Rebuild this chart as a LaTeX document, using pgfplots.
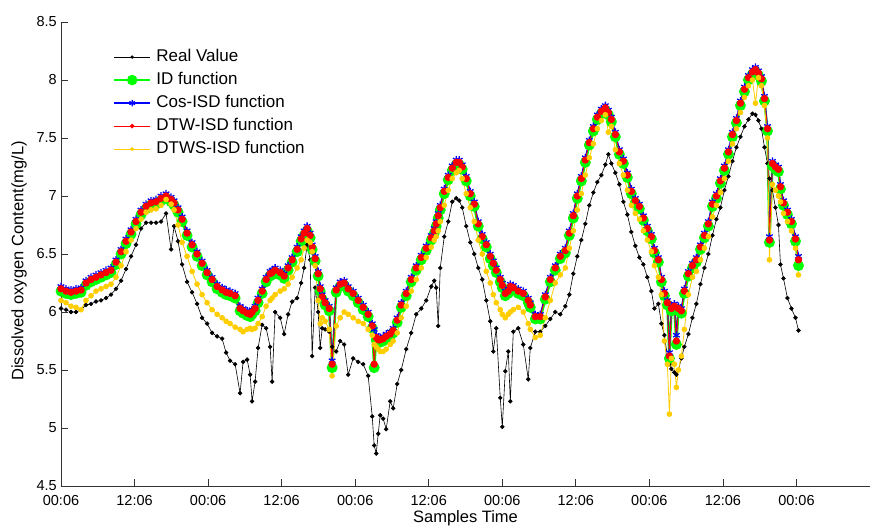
\documentclass[border=0pt]{standalone}
\usepackage{fontspec}
\setmainfont{Liberation Sans}
\usepackage{pgfplots}
\usepackage{pgfplotstable}
\pgfplotsset{compat=1.18}

\definecolor{mgreen}{RGB}{0,255,0}
\definecolor{mblue}{RGB}{0,0,255}
\definecolor{mred}{RGB}{255,0,0}
\definecolor{myellow}{RGB}{255,205,0}

% t in hours from the first sample (00:06)
\pgfplotstableread{
t real id cos dtw dtws
0 6.03 6.18 6.22 6.20 6.10
0.82 6.02 6.16 6.20 6.18 6.08
1.63 6.00 6.15 6.19 6.17 6.05
2.45 6.00 6.16 6.20 6.18 6.04
3.27 6.02 6.17 6.21 6.19 6.02
4.08 6.06 6.23 6.27 6.25 6.10
4.90 6.07 6.26 6.30 6.28 6.14
5.71 6.09 6.28 6.32 6.30 6.18
6.53 6.10 6.30 6.34 6.32 6.20
7.35 6.12 6.32 6.36 6.34 6.22
8.16 6.15 6.34 6.38 6.36 6.24
8.98 6.20 6.41 6.45 6.43 6.30
9.80 6.27 6.50 6.54 6.52 6.40
10.61 6.37 6.59 6.63 6.61 6.52
11.43 6.48 6.67 6.71 6.69 6.62
12.24 6.58 6.76 6.80 6.78 6.72
13.06 6.72 6.84 6.88 6.86 6.80
13.88 6.77 6.89 6.93 6.91 6.86
14.69 6.77 6.92 6.96 6.94 6.88
15.51 6.77 6.93 6.97 6.95 6.89
16.33 6.78 6.96 7.00 6.98 6.92
17.14 6.85 6.98 7.02 7.00 6.97
17.96 6.54 6.95 6.99 6.97 6.93
18.45 6.74 6.92 6.96 6.94 6.88
19.10 6.61 6.86 6.90 6.88 6.75
19.76 6.41 6.78 6.82 6.80 6.60
20.57 6.26 6.66 6.70 6.68 6.48
21.39 6.17 6.56 6.60 6.58 6.35
22.20 6.07 6.48 6.52 6.50 6.24
23.02 5.95 6.40 6.44 6.42 6.15
23.84 5.90 6.32 6.36 6.34 6.08
24.65 5.82 6.26 6.30 6.28 6.02
25.47 5.79 6.20 6.24 6.22 5.98
26.29 5.77 6.17 6.21 6.19 5.95
26.94 5.65 6.15 6.19 6.17 5.92
27.59 5.58 6.14 6.18 6.16 5.90
28.41 5.55 6.12 6.16 6.14 5.87
29.22 5.30 6.01 6.05 6.03 5.85
29.71 5.57 5.99 6.03 6.01 5.83
30.37 5.59 5.97 6.01 5.99 5.85
30.86 5.46 5.96 6.00 5.98 5.86
31.18 5.23 5.98 6.02 6.00 5.85
31.67 5.40 6.01 6.05 6.03 5.86
32.16 5.69 6.08 6.12 6.10 5.90
32.82 5.89 6.16 6.20 6.18 5.96
33.47 5.86 6.26 6.30 6.28 6.05
34.12 5.70 6.31 6.35 6.33 6.10
34.45 5.40 6.32 6.36 6.34 6.12
34.94 6.00 6.34 6.38 6.36 6.15
35.76 5.95 6.32 6.36 6.34 6.18
36.41 5.81 6.29 6.33 6.31 6.20
37.06 5.98 6.36 6.40 6.38 6.24
37.71 6.09 6.43 6.47 6.45 6.30
38.53 6.12 6.52 6.56 6.54 6.38
39.18 6.25 6.61 6.65 6.63 6.45
39.67 6.38 6.66 6.70 6.68 6.55
40.16 6.58 6.70 6.74 6.72 6.62
40.65 6.45 6.64 6.68 6.66 6.60
40.98 5.62 6.54 6.58 6.56 6.52
41.47 6.21 6.44 6.48 6.46 6.40
41.96 6.00 6.31 6.35 6.33 6.10
42.29 5.69 6.18 6.22 6.20 5.90
42.61 5.86 6.11 6.15 6.13 5.95
43.10 5.85 6.06 6.10 6.08 5.92
43.76 5.83 6.01 6.05 6.03 5.85
44.24 5.70 5.52 5.58 5.55 5.45
44.90 5.66 6.17 6.21 6.19 5.88
45.55 5.75 6.22 6.26 6.24 5.95
46.20 5.72 6.23 6.27 6.25 6.00
46.86 5.46 6.18 6.22 6.20 5.98
47.67 5.60 6.14 6.18 6.16 5.95
48.49 5.57 6.08 6.12 6.10 5.92
49.31 5.55 6.02 6.06 6.04 5.90
50.12 5.45 5.96 6.00 5.98 5.85
50.78 5.10 5.86 5.90 5.88 5.80
51.10 4.85 5.52 5.85 5.55 5.72
51.43 4.78 5.76 5.80 5.78 5.70
51.76 4.95 5.74 5.78 5.76 5.68
52.08 5.11 5.74 5.78 5.76 5.66
52.57 5.08 5.75 5.79 5.77 5.66
53.06 4.99 5.77 5.81 5.79 5.68
53.71 5.23 5.79 5.83 5.81 5.72
54.20 5.17 5.82 5.86 5.84 5.75
54.86 5.38 5.91 5.95 5.93 5.82
55.51 5.50 6.04 6.08 6.06 5.95
56.33 5.68 6.14 6.18 6.16 6.05
57.14 5.82 6.26 6.30 6.28 6.18
57.96 5.98 6.36 6.40 6.38 6.28
58.78 6.03 6.45 6.49 6.47 6.38
59.59 6.10 6.53 6.57 6.55 6.47
60.41 6.22 6.62 6.66 6.64 6.56
60.90 6.27 6.68 6.72 6.70 6.62
61.22 6.21 6.74 6.78 6.76 6.65
61.55 5.88 6.81 6.85 6.83 6.70
61.88 6.38 6.88 6.92 6.90 6.78
62.53 6.65 7.02 7.06 7.04 6.92
63.18 6.78 7.14 7.18 7.16 7.05
63.84 6.95 7.22 7.26 7.24 7.15
64.49 6.98 7.27 7.31 7.29 7.20
64.98 6.96 7.27 7.31 7.29 7.22
65.47 6.90 7.23 7.27 7.25 7.15
66.12 6.74 7.13 7.17 7.15 7.02
66.78 6.60 7.00 7.04 7.02 6.90
67.43 6.50 6.91 6.95 6.93 6.78
68.08 6.38 6.74 6.78 6.76 6.62
68.73 6.28 6.63 6.67 6.65 6.50
69.39 6.10 6.56 6.60 6.58 6.35
70.04 5.92 6.46 6.50 6.48 6.25
70.53 5.66 6.40 6.44 6.42 6.15
71.02 5.86 6.34 6.38 6.36 6.08
71.67 5.26 6.26 6.30 6.28 6.02
72.00 5.01 6.21 6.25 6.23 5.98
72.49 5.49 6.14 6.18 6.16 5.95
72.98 5.66 6.16 6.20 6.18 5.98
73.31 5.23 6.20 6.24 6.22 6.00
73.80 5.83 6.19 6.23 6.21 6.02
74.61 5.86 6.16 6.20 6.18 6.04
75.43 5.72 6.14 6.18 6.16 6.00
76.24 5.42 6.08 6.12 6.10 5.90
76.57 5.69 6.04 6.08 6.06 5.85
77.39 5.83 5.94 5.98 5.96 5.78
78.20 5.83 5.94 5.98 5.96 5.80
79.02 5.88 6.11 6.15 6.13 5.95
79.84 5.94 6.26 6.30 6.28 6.10
80.65 6.00 6.36 6.40 6.38 6.25
81.47 5.98 6.46 6.50 6.48 6.32
82.29 6.05 6.51 6.55 6.53 6.38
82.94 6.15 6.66 6.70 6.68 6.55
83.59 6.33 6.81 6.85 6.83 6.70
84.24 6.48 6.98 7.02 7.00 6.88
84.90 6.62 7.13 7.17 7.15 7.02
85.55 6.76 7.29 7.33 7.31 7.18
86.20 6.92 7.44 7.48 7.46 7.33
86.86 7.03 7.56 7.60 7.58 7.45
87.51 7.12 7.66 7.70 7.68 7.58
88.16 7.18 7.71 7.75 7.73 7.65
88.82 7.27 7.74 7.78 7.76 7.70
89.31 7.36 7.70 7.74 7.72 7.55
89.80 7.28 7.64 7.68 7.66 7.60
90.45 7.20 7.51 7.55 7.53 7.40
91.10 7.10 7.36 7.40 7.38 7.28
91.76 6.95 7.28 7.32 7.30 7.18
92.41 6.84 7.16 7.20 7.18 7.05
93.06 6.69 7.02 7.06 7.04 6.92
93.71 6.57 6.94 6.98 6.96 6.85
94.37 6.47 6.89 6.93 6.91 6.80
95.02 6.41 6.79 6.83 6.81 6.70
95.67 6.30 6.70 6.74 6.72 6.62
96.33 6.18 6.63 6.67 6.65 6.52
96.82 6.03 6.51 6.55 6.53 6.40
97.47 6.07 6.43 6.47 6.45 6.30
97.96 5.90 6.26 6.30 6.28 6.15
98.45 5.80 6.14 6.18 6.16 5.75
98.94 5.62 6.06 6.10 6.08 5.55
99.27 5.55 5.60 5.65 5.62 5.12
99.59 5.51 6.01 6.05 6.03 5.60
100.08 5.48 6.03 6.07 6.05 5.55
100.41 5.46 5.72 5.80 5.75 5.35
100.73 5.50 6.01 6.05 6.03 5.50
101.22 5.60 5.99 6.03 6.01 5.62
101.71 5.70 6.16 6.20 6.18 5.85
102.37 5.81 6.31 6.35 6.33 6.15
103.02 5.95 6.38 6.42 6.40 6.30
103.67 6.07 6.43 6.47 6.45 6.35
104.33 6.24 6.54 6.58 6.56 6.45
104.98 6.38 6.64 6.68 6.66 6.55
105.63 6.50 6.74 6.78 6.76 6.65
106.29 6.66 6.91 6.95 6.93 6.82
106.94 6.80 6.98 7.02 7.00 6.92
107.59 6.90 7.11 7.15 7.13 7.03
108.24 7.05 7.22 7.26 7.24 7.15
108.90 7.17 7.36 7.40 7.38 7.30
109.55 7.30 7.51 7.55 7.53 7.45
110.20 7.42 7.63 7.67 7.65 7.58
110.86 7.51 7.78 7.82 7.80 7.72
111.51 7.60 7.90 7.94 7.92 7.85
112.16 7.66 8.00 8.04 8.02 7.95
112.82 7.71 8.05 8.09 8.07 8.00
113.31 7.70 8.07 8.11 8.09 7.80
113.80 7.65 8.04 8.08 8.06 8.02
114.29 7.58 7.99 8.03 8.01 7.95
114.78 7.42 7.82 7.86 7.84 7.78
115.27 7.28 7.56 7.60 7.58 7.50
115.59 7.15 6.60 6.65 6.62 6.45
116.08 7.05 7.26 7.30 7.28 7.10
116.57 6.90 7.23 7.27 7.25 7.05
117.06 6.75 7.21 7.25 7.23 7.00
117.39 6.41 7.06 7.10 7.08 6.95
117.88 6.29 6.92 6.96 6.94 6.85
118.53 6.12 6.84 6.88 6.86 6.78
119.18 6.03 6.76 6.80 6.78 6.70
119.84 5.95 6.61 6.65 6.63 6.55
120.33 5.84 6.40 6.48 6.45 6.32
}\dotable

\begin{document}
\begin{tikzpicture}
\begin{axis}[
	scale only axis,
	width=809pt,
	height=464pt,
	xmin=0, xmax=132,
	ymin=4.5, ymax=8.5,
	axis lines=left,
	axis line style={-, black!80, line width=0.8pt},
	tick align=inside,
	major tick length=7pt,
	tick style={black!80, line width=0.8pt},
	xtick={0,12,...,120},
	xticklabels={00:06,12:06,00:06,12:06,00:06,12:06,00:06,12:06,00:06,12:06,00:06},
	ytick={4.5,5,...,8.5},
	/pgf/number format/assume math mode=true,
	ticklabel style={font=\fontsize{14.5}{17}\selectfont},
	xticklabel style={anchor=north, inner sep=0pt, yshift=-9pt},
	yticklabel style={anchor=east, inner sep=0pt, xshift=-4pt},
	xlabel={Samples Time},
	ylabel={Dissolved oxygen Content(mg/L)},
	label style={font=\fontsize{16.5}{19}\selectfont},
	xlabel style={at={(axis description cs:0.5,-0.052)}, anchor=north, inner sep=0pt},
	ylabel style={at={(axis description cs:-0.042,0.485)}, anchor=south, inner sep=0pt},
	legend style={draw=none, fill=none, inner sep=0pt,
		at={(axis description cs:0.064,0.941)}, anchor=north west,
		font=\fontsize{17}{20}\selectfont,
		nodes={inner sep=0pt, text height=12pt, text depth=3pt},
		row sep=8pt,
		/tikz/every odd column/.append style={column sep=5pt}},
	legend cell align=left,
	legend image code/.code={
		\draw[mark repeat=2, mark phase=2] plot coordinates {(0pt,0pt) (18pt,0pt) (36pt,0pt)};
	},
]
\addplot[black, line width=0.6pt, mark=*, mark size=1.9pt,
	legend image post style={mark size=1.4pt}] table[x=t, y=real] {\dotable};
\addlegendentry{Real Value}
\addplot[mgreen, line width=2.4pt, mark=*, mark size=4.2pt,
	legend image post style={mark size=4pt}] table[x=t, y=id] {\dotable};
\addlegendentry{ID function}
\addplot[mblue, line width=1.2pt, mark=asterisk, mark size=3.8pt, mark options={line width=1.3pt},
	legend image post style={mark size=3.2pt}] table[x=t, y=cos] {\dotable};
\addlegendentry{Cos-ISD function}
\addplot[mred, line width=0.9pt, mark=*, mark size=3.2pt,
	legend image post style={mark size=1.8pt}] table[x=t, y=dtw] {\dotable};
\addlegendentry{DTW-ISD function}
\addplot[myellow, line width=0.8pt, mark=*, mark size=2.4pt,
	legend image post style={mark size=1.5pt}] table[x=t, y=dtws] {\dotable};
\addlegendentry{DTWS-ISD function}
\end{axis}
\pgfresetboundingbox
\path[use as bounding box] (current axis.south west) ++(-61pt,-39pt) rectangle ++(874pt,525pt);
\end{tikzpicture}
\end{document}
